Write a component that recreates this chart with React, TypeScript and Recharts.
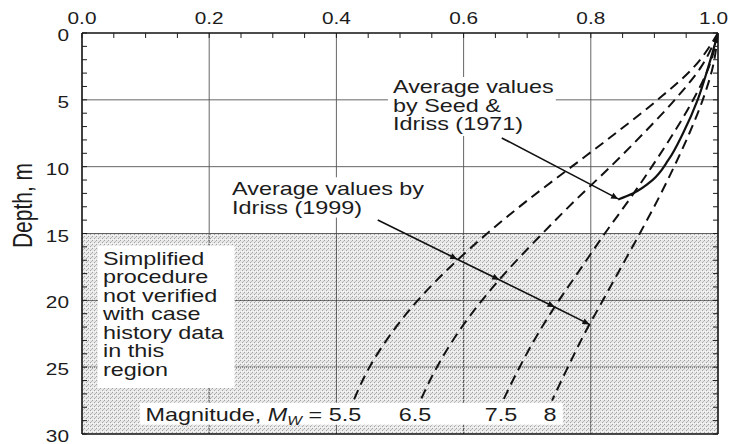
import { ComposedChart, Line, XAxis, YAxis, CartesianGrid, ReferenceArea, ReferenceDot } from "recharts"

const depths = [0, 2.5, 5, 7.5, 10, 12.5, 15, 17.5, 20, 22.5, 25, 27.5]
const rdM55 = [1.0, 0.963, 0.905, 0.839, 0.77, 0.701, 0.637, 0.579, 0.528, 0.486, 0.452, 0.427]
const rdM65 = [1.0, 0.974, 0.932, 0.883, 0.831, 0.776, 0.724, 0.674, 0.629, 0.59, 0.558, 0.532]
const rdM75 = [1.0, 0.986, 0.961, 0.93, 0.896, 0.86, 0.822, 0.786, 0.75, 0.717, 0.688, 0.662]
const rdM80 = [1.0, 0.992, 0.976, 0.955, 0.931, 0.905, 0.877, 0.848, 0.819, 0.79, 0.764, 0.739]

// Seed & Idriss (1971) average curve
const seedDepths = [0, 2.5, 5, 7.5, 9.5, 11, 12, 12.45]
const seedRd = [1.0, 0.985, 0.968, 0.945, 0.922, 0.897, 0.866, 0.843]

// annotation arrows
const idrissArrowRd = [0.465, 0.59, 0.656, 0.743, 0.798]
const idrissArrowDepth = [13.99, 16.92, 18.46, 20.5, 21.8]
const seedArrowRd = [0.66, 0.843]
const seedArrowDepth = [7.85, 12.41]

const rdTicks = [0, 0.05, 0.1, 0.15, 0.2, 0.25, 0.3, 0.35, 0.4, 0.45, 0.5, 0.55, 0.6, 0.65, 0.7, 0.75, 0.8, 0.85, 0.9, 0.95, 1]
const depthTicks = [0, 1, 2, 3, 4, 5, 6, 7, 8, 9, 10, 11, 12, 13, 14, 15, 16, 17, 18, 19, 20, 21, 22, 23, 24, 25, 26, 27, 28, 29, 30]
const gridRd = [0.2, 0.4, 0.6, 0.8]
const gridDepth = [5, 10, 15, 20, 25]

const magLabels = ["6.5", "7.5", "8"]
const magLabelRd = [0.5236, 0.659, 0.736]

const toPts = (rd: number[], d: number[]) => rd.map((r, i) => ({ r, d: d[i] }))

const FONT = "'Liberation Sans', Arial, Helvetica, sans-serif"
const INK = "#1c1c1c"
const SX = 1.3

function SText({ x, y, lines, anchor = "start", size = 18, lh = 18.5 }: any) {
  return (
    <text
      transform={`translate(${x},${y}) scale(${SX},1)`}
      textAnchor={anchor}
      fontSize={size}
      fontFamily={FONT}
      fill={INK}
    >
      {lines.map((l: any, i: number) => (
        <tspan key={i} x={0} dy={i === 0 ? 0 : lh}>
          {l}
        </tspan>
      ))}
    </text>
  )
}

function TopTick({ x, y, payload }: any) {
  const v = payload.value
  const major = Math.round(v * 100) % 20 === 0
  const last = v === 1
  return (
    <g>
      <line x1={x} y1={y} x2={x} y2={y + 5} stroke={INK} strokeWidth={1} />
      {major && (
        <SText x={last ? x + 10 : x} y={y - 9} anchor={last ? "end" : "middle"} size={16} lines={[v.toFixed(1)]} />
      )}
    </g>
  )
}

function LeftTick({ x, y, payload }: any) {
  const v = payload.value
  return (
    <g>
      <line x1={x} y1={y} x2={x + 5} y2={y} stroke={INK} strokeWidth={1} />
      {v % 5 === 0 && <SText x={x - 13} y={y + 8} anchor="end" size={16} lines={[String(v)]} />}
    </g>
  )
}

function RightTick({ x, y }: any) {
  return <line x1={x} y1={y} x2={x - 5} y2={y} stroke={INK} strokeWidth={1} />
}

const note = (lines: string[]) => (p: any) => <SText x={p.cx} y={p.cy} lines={lines} />

const magNote = (p: any) => (
  <text transform={`translate(${p.cx},${p.cy}) scale(${SX},1)`} fontSize={18} fontFamily={FONT} fill={INK}>
    Magnitude, <tspan fontStyle="italic">M</tspan>
    <tspan fontStyle="italic" fontSize={12} dy={4}>W</tspan>
    <tspan dy={-4}> = 5.5</tspan>
  </text>
)

const centered = (t: string) => (p: any) => <SText x={p.cx} y={p.cy} anchor="middle" lines={[t]} />

export default function App() {
  const axisLine = { stroke: "#111", strokeWidth: 1.6 }
  return (
    <div style={{ position: "absolute", left: 0, top: 0, background: "#fff" }}>
      <ComposedChart width={729} height={444} margin={{ top: 0, right: 0, bottom: 0, left: 0 }}>
        <defs>
          <pattern id="stip" width="4" height="4" patternUnits="userSpaceOnUse">
            <rect width="4" height="4" fill="#000" fillOpacity={0.09} />
            <rect x="0" y="0" width="1" height="1" fill="#000" fillOpacity={0.3} />
            <rect x="2" y="2" width="1" height="1" fill="#000" fillOpacity={0.3} />
            <rect x="3" y="1" width="1" height="1" fill="#000" fillOpacity={0.2} />
            <rect x="1" y="3" width="1" height="1" fill="#fff" fillOpacity={0.7} />
            <rect x="3" y="3" width="1" height="1" fill="#fff" fillOpacity={0.7} />
          </pattern>
          <marker id="arr" viewBox="0 0 10 10" refX="10" refY="5" markerWidth="10" markerHeight="7" orient="auto" markerUnits="userSpaceOnUse">
            <path d="M0,0.5 L10,5 L0,9.5 z" fill="#111" />
          </marker>
        </defs>
        <CartesianGrid horizontalValues={gridDepth} verticalValues={gridRd} stroke="#555" strokeWidth={0.9} />
        <XAxis
          dataKey="r"
          type="number"
          domain={[0, 1]}
          orientation="top"
          ticks={rdTicks}
          interval={0}
          height={33}
          tickSize={0}
          tickMargin={0}
          tickLine={false}
          axisLine={axisLine}
          tick={<TopTick />}
          allowDataOverflow
        />
        <XAxis xAxisId="bottom" type="number" domain={[0, 1]} orientation="bottom" height={10} tick={false} tickLine={false} axisLine={axisLine} allowDataOverflow />
        <YAxis
          type="number"
          domain={[0, 30]}
          reversed
          ticks={depthTicks}
          interval={0}
          width={82}
          tickSize={0}
          tickMargin={0}
          tickLine={false}
          axisLine={axisLine}
          tick={<LeftTick />}
          allowDataOverflow
          label={{
            content: (p: any) => {
              const vb = p.viewBox
              return (
                <text
                  transform={`translate(${vb.x + 22},${vb.y + vb.height / 2 - 28}) rotate(-90) scale(1,${SX})`}
                  textAnchor="middle"
                  dominantBaseline="central"
                  fontSize={21}
                  fontFamily={FONT}
                  fill={INK}
                >
                  Depth, m
                </text>
              )
            },
          }}
        />
        <YAxis
          yAxisId="right"
          type="number"
          domain={[0, 30]}
          reversed
          orientation="right"
          ticks={depthTicks}
          interval={0}
          width={11}
          tickSize={0}
          tickMargin={0}
          tickLine={false}
          axisLine={axisLine}
          tick={<RightTick />}
          allowDataOverflow
        />

        <ReferenceArea x1={0} x2={1} y1={15} y2={30} fill="url(#stip)" fillOpacity={1} stroke="none" />
        <ReferenceArea x1={0.025} x2={0.24} y1={15.9} y2={26.55} fill="#fff" fillOpacity={1} stroke="none" />
        <ReferenceArea x1={0.091} x2={0.756} y1={27.67} y2={29.3} fill="#fff" fillOpacity={1} stroke="none" />
        <ReferenceArea x1={0.481} x2={0.745} y1={3.3} y2={7.7} fill="#fff" fillOpacity={1} stroke="none" />
        <ReferenceArea x1={0.225} x2={0.55} y1={10.8} y2={13.8} fill="#fff" fillOpacity={1} stroke="none" />

        <Line data={toPts(rdM55, depths)} dataKey="d" type="monotoneY" stroke="#111" strokeWidth={2} strokeDasharray="10 6" dot={false} activeDot={false} isAnimationActive={false} />
        <Line data={toPts(rdM65, depths)} dataKey="d" type="monotoneY" stroke="#111" strokeWidth={2} strokeDasharray="10 6" dot={false} activeDot={false} isAnimationActive={false} />
        <Line data={toPts(rdM75, depths)} dataKey="d" type="monotoneY" stroke="#111" strokeWidth={2} strokeDasharray="10 6" dot={false} activeDot={false} isAnimationActive={false} />
        <Line data={toPts(rdM80, depths)} dataKey="d" type="monotoneY" stroke="#111" strokeWidth={2} strokeDasharray="10 6" dot={false} activeDot={false} isAnimationActive={false} />
        <Line data={toPts(seedRd, seedDepths)} dataKey="d" type="monotoneY" stroke="#111" strokeWidth={2.2} dot={false} activeDot={false} isAnimationActive={false} />
        <Line data={toPts(idrissArrowRd, idrissArrowDepth)} dataKey="d" type="linear" stroke="#111" strokeWidth={1.6} markerMid="url(#arr)" markerEnd="url(#arr)" dot={false} activeDot={false} isAnimationActive={false} />
        <Line data={toPts(seedArrowRd, seedArrowDepth)} dataKey="d" type="linear" stroke="#111" strokeWidth={1.6} markerEnd="url(#arr)" dot={false} activeDot={false} isAnimationActive={false} />

        <ReferenceDot x={0.489} y={4.49} r={0} shape={note(["Average values", "by Seed &", "Idriss (1971)"])} />
        <ReferenceDot x={0.236} y={12.12} r={0} shape={note(["Average values by", "Idriss (1999)"])} />
        <ReferenceDot
          x={0.033}
          y={17.35}
          r={0}
          shape={note(["Simplified", "procedure", "not verified", "with case", "history data", "in this", "region"])}
        />
        <ReferenceDot x={0.1} y={29.0} r={0} shape={magNote} />
        {magLabels.map((t, i) => (
          <ReferenceDot key={t} x={magLabelRd[i]} y={29.0} r={0} shape={centered(t)} />
        ))}
      </ComposedChart>
    </div>
  )
}
